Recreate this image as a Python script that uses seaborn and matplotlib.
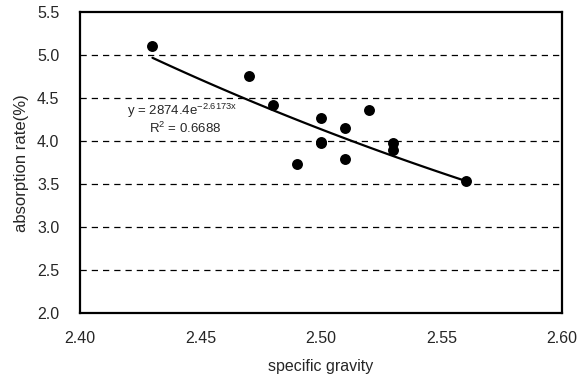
import numpy as np
import pandas as pd
import matplotlib
matplotlib.use("Agg")
import matplotlib.pyplot as plt
import seaborn as sns

# Measured samples
specific_gravity = [2.43, 2.47, 2.48, 2.50, 2.50, 2.50, 2.49, 2.51, 2.51, 2.52, 2.53, 2.53, 2.56]
absorption_rate = [5.11, 4.76, 4.42, 4.27, 3.98, 3.99, 3.74, 4.15, 3.79, 4.36, 3.98, 3.90, 3.54]

# Exponential trend line y = a * exp(b * x)
fit_a = 2874.4
fit_b = -2.6173
fit_r2 = 0.6688

x_ticks = [2.40, 2.45, 2.50, 2.55, 2.60]
y_ticks = [2.0, 2.5, 3.0, 3.5, 4.0, 4.5, 5.0, 5.5]

sns.set_theme(style="white")
plt.rcParams["font.family"] = ["Liberation Sans", "DejaVu Sans"]
plt.rcParams["mathtext.fontset"] = "custom"
plt.rcParams["mathtext.rm"] = "Liberation Sans"

df = pd.DataFrame({"sg": specific_gravity, "ar": absorption_rate})
trend_x = np.linspace(min(specific_gravity), max(specific_gravity), 100)
trend = pd.DataFrame({"sg": trend_x, "ar": fit_a * np.exp(fit_b * trend_x)})

fig = plt.figure(figsize=(5.77, 3.85), dpi=100)
ax = fig.add_axes([0.139, 0.187, 0.835, 0.781])

for yv in y_ticks[1:-1]:
    ax.axhline(yv, color="black", lw=0.9, ls=(0, (5, 4)), zorder=1)

sns.lineplot(data=trend, x="sg", y="ar", ax=ax, color="black", lw=1.6, zorder=2)
sns.scatterplot(data=df, x="sg", y="ar", ax=ax, color="black", s=62,
                edgecolor="black", linewidth=0, zorder=3)

ax.set_xlim(2.40, 2.60)
ax.set_ylim(2.0, 5.5)
ax.set_xticks(x_ticks)
ax.set_xticklabels([f"{v:.2f}" for v in x_ticks], fontsize=11.5)
ax.set_yticks(y_ticks)
ax.set_yticklabels([f"{v:.1f}" for v in y_ticks], fontsize=11.5)
ax.tick_params(axis="x", direction="in", length=4, width=1, color="black", pad=13)
ax.tick_params(axis="y", direction="in", length=0, pad=15)
ax.set_xlabel("specific gravity", fontsize=11.5, labelpad=9)
ax.set_ylabel("absorption rate(%)", fontsize=12, labelpad=6)

for sp in ax.spines.values():
    sp.set_color("black")
    sp.set_linewidth(1.6)

ax.text(2.4195, 4.355, f"y = {fit_a}e$^{{\\mathrm{{{fit_b}x}}}}$", fontsize=9.5,
        ha="left", va="center")
ax.text(2.4285, 4.145, f"R$^{{\\mathrm{{2}}}}$ = {fit_r2}", fontsize=9.5,
        ha="left", va="center")

fig.savefig("out.png", dpi=100)
